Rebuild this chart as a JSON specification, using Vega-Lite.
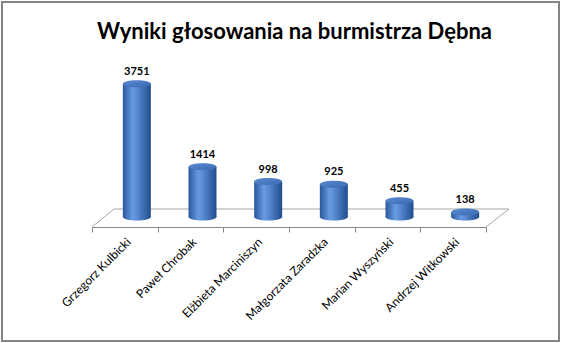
{
  "$schema": "https://vega.github.io/schema/vega-lite/v6.json",
  "autosize": "none",
  "padding": {"left": 2, "top": 2, "right": 2, "bottom": 2},
  "width": 557,
  "height": 339,
  "background": "white",
  "config": {"view": {"stroke": "#858585", "strokeWidth": 2}, "font": "Lato"},
  "title": {
    "text": "Wyniki głosowania na burmistrza Dębna",
    "font": "Lato",
    "fontSize": 22,
    "fontWeight": "bold",
    "color": "#000000",
    "anchor": "middle",
    "frame": "group",
    "offset": -59,
    "dx": 14,
    "baseline": "alphabetic"
  },
  "datasets": {
    "votes": [
      {"kandydat": "Grzegorz Kulbicki", "glosy": 3751},
      {"kandydat": "Paweł Chrobak", "glosy": 1414},
      {"kandydat": "Elżbieta Marciniszyn", "glosy": 998},
      {"kandydat": "Małgorzata  Zaradzka", "glosy": 925},
      {"kandydat": "Marian Wyszyński", "glosy": 455},
      {"kandydat": "Andrzej Witkowski", "glosy": 138}
    ],
    "floor": [
      {"ix": 0, "v": -282, "o": 1},
      {"ix": 0.335, "v": 225, "o": 2},
      {"ix": 6.35, "v": 225, "o": 3},
      {"ix": 6, "v": -282, "o": 4}
    ]
  },
  "layer": [
    {
      "data": {"name": "floor"},
      "mark": {"type": "line", "color": "#a6a6a6", "strokeWidth": 1},
      "encoding": {
        "x": {"field": "ix", "type": "quantitative", "scale": {"domain": [0, 6], "range": [90, 484], "nice": false, "zero": false}, "axis": null},
        "y": {"field": "v", "type": "quantitative", "scale": {"domain": [0, 4000], "range": [215, 73], "nice": false, "zero": false}, "axis": null},
        "order": {"field": "o", "type": "quantitative"}
      }
    },
    {
      "data": {"name": "votes"},
      "encoding": {
        "x": {
          "field": "kandydat",
          "type": "nominal",
          "sort": null,
          "scale": {"range": [90, 484], "paddingInner": 0, "paddingOuter": 0},
          "axis": {
            "title": null,
            "labelAngle": -45,
            "labelFont": "Lato",
            "labelFontSize": 12,
            "labelColor": "#000000",
            "tickBand": "extent",
            "tickColor": "#868686",
            "domainColor": "#868686",
            "tickSize": 5,
            "offset": -114,
            "labelPadding": 4,
            "grid": false
          }
        }
      },
      "layer": [
        {
          "mark": {
            "type": "bar",
            "size": 28,
            "xOffset": 12,
            "fill": {
              "gradient": "linear", "x1": 0, "x2": 1, "y1": 0, "y2": 0,
              "stops": [
                {"offset": 0, "color": "#2a589a"},
                {"offset": 0.35, "color": "#679be3"},
                {"offset": 0.5, "color": "#5a8cd6"},
                {"offset": 1, "color": "#214d8d"}
              ]
            }
          },
          "encoding": {
            "y": {"field": "glosy", "type": "quantitative", "scale": {"domain": [0, 4000], "range": [215, 73], "nice": false, "zero": false}, "axis": null}
          }
        },
        {
          "mark": {
            "type": "point",
            "shape": "M-1,0A1,0.25,0,1,1,1,0A1,0.25,0,1,1,-1,0Z",
            "size": 784,
            "filled": true,
            "opacity": 1,
            "strokeWidth": 0,
            "xOffset": 12,
            "fill": {
              "gradient": "linear", "x1": 0, "x2": 1, "y1": 0, "y2": 0,
              "stops": [
                {"offset": 0, "color": "#2a589a"},
                {"offset": 0.35, "color": "#679be3"},
                {"offset": 0.5, "color": "#5a8cd6"},
                {"offset": 1, "color": "#214d8d"}
              ]
            }
          },
          "encoding": {
            "y": {"datum": 0, "type": "quantitative"}
          }
        },
        {
          "mark": {
            "type": "point",
            "shape": "M-1,0A1,0.25,0,1,1,1,0A1,0.25,0,1,1,-1,0Z",
            "size": 784,
            "filled": true,
            "opacity": 1,
            "strokeWidth": 0,
            "xOffset": 12,
            "fill": {
              "gradient": "linear", "x1": 0, "x2": 1, "y1": 0, "y2": 1,
              "stops": [
                {"offset": 0, "color": "#5a8ad0"},
                {"offset": 1, "color": "#3a6bb3"}
              ]
            }
          },
          "encoding": {
            "y": {"field": "glosy", "type": "quantitative"}
          }
        },
        {
          "mark": {
            "type": "text",
            "font": "Lato",
            "fontSize": 11,
            "fontWeight": "bold",
            "color": "#000000",
            "dx": 12,
            "dy": -9,
            "baseline": "alphabetic"
          },
          "encoding": {
            "y": {"field": "glosy", "type": "quantitative"},
            "text": {"field": "glosy", "type": "quantitative"}
          }
        }
      ]
    }
  ],
  "resolve": {"scale": {"x": "independent"}}
}
